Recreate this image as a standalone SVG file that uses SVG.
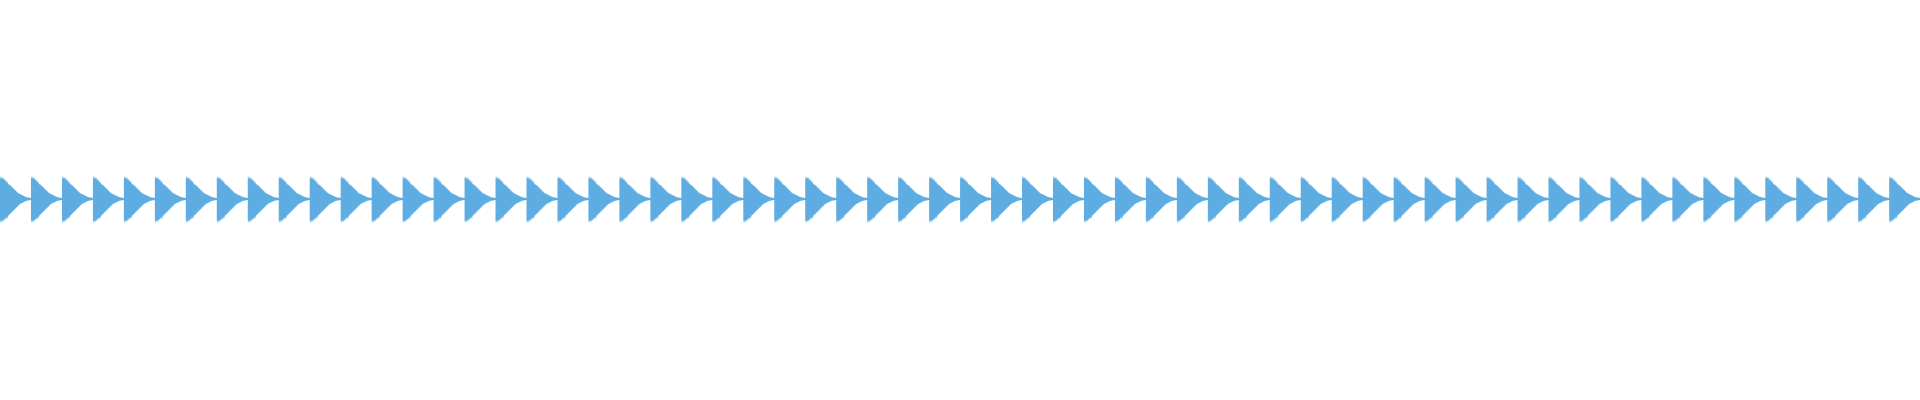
<svg xmlns="http://www.w3.org/2000/svg" width="1920" height="400" viewBox="0 0 1920 400">
<defs>
<pattern id="wave" patternUnits="userSpaceOnUse" x="0" y="0" width="30.97" height="400">
<path fill="#5DADE2" d="M0,179 L1,176 L2,179 L3,177 L4,180 L5,179 L6,182 L7,181 L8,184 L10,185 L12,187 L14,189 L16,191 L18,193 L20,194 L22,195 L24,196 L26,197 L28,197.5 L30.97,198 L30.97,200 L28,200.5 L26,201 L24,202 L22,203 L20,204 L18,206 L16,208 L14,210 L12,212 L10,214 L8,216 L7,219 L6,217 L5,220 L4,219 L3,222 L2,220 L1,223 L0,220 Z"/>
</pattern>
</defs>
<rect width="1920" height="400" fill="#ffffff"/>
<rect x="0" y="170" width="1920" height="60" fill="url(#wave)"/>
</svg>
